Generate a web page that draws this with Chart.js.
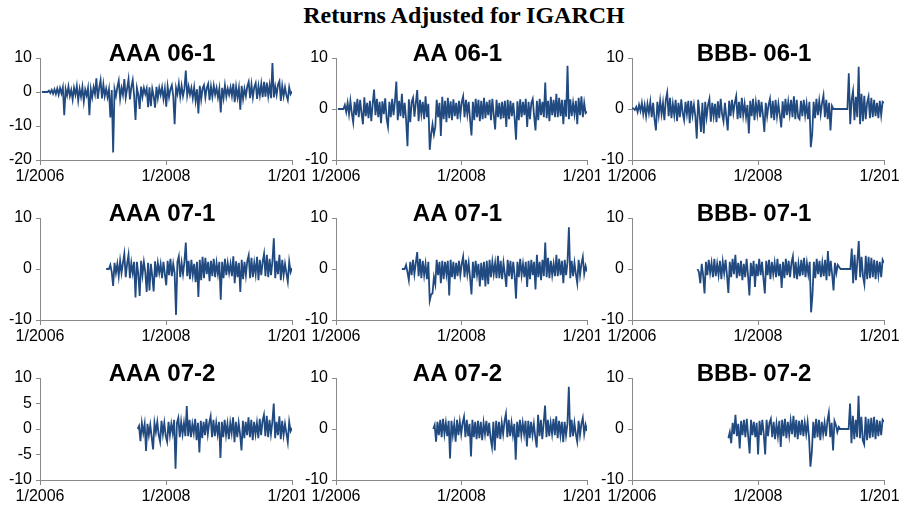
<!doctype html>
<html>
<head>
	<meta charset="utf-8">
	<title>Returns Adjusted for IGARCH</title>
	<script src="https://cdn.jsdelivr.net/npm/chart.js@4/dist/chart.umd.min.js"></script>
	<style>
		body {margin:0; background:#fff; overflow:hidden}
		#page {position:relative; width:910px; height:506px}
		#head {position:absolute; left:0; top:3px; width:928px; text-align:center;
			font:bold 24px "Liberation Serif", "Times New Roman", serif; line-height:24px; color:#000}
		canvas {position:absolute; background:#fff}
	</style>
	<script>
		// panel names, in reading order
		var names = ['AAA 06-1', 'AA 06-1', 'BBB- 06-1',
			'AAA 07-1', 'AA 07-1', 'BBB- 07-1',
			'AAA 07-2', 'AA 07-2', 'BBB- 07-2'];
		// first and last date of each series (decimal year)
		var startYear = [2006.03, 2006.03, 2006.0, 2007.05, 2007.05, 2007.04, 2007.55, 2007.55, 2007.53];
		var endYear = [2010.0, 2010.0, 2010.0, 2010.0, 2010.0, 2010.0, 2010.0, 2010.0, 2010.0];
		var xTicks = [2006, 2008, 2010];
		var yMin = [-20, -10, -10, -10, -10, -10, -10, -10, -10];
		var yMax = [10, 10, 10, 10, 10, 10, 10, 10, 10];
		var yStep = [10, 10, 10, 10, 10, 10, 5, 10, 10];

		var aaa061 = [0, 0, 0, 0, 0, 0.4, -0.3, 0.6, -0.5, 0.8,
			-0.6, 1.0, -0.8, 1.2, -0.4, 1.4, -6.8, 0.8, -1.0, 1.6,
			-1.2, 0.6, -2.2, 1.2, -0.8, 1.8, -2.5, 0.9, -1.4, 1.5,
			-2.8, 0.7, -1.0, 1.2, -6.8, 0.8, -1.6, 1.4, -0.6, 4.0,
			-2.0, 1.2, 3.5, -1.9, 2.2, -1.2, 1.0, -1.5, 0.8, -7.5,
			0.6, -17.8, 0.8, -1.2, 1.4, 3.3, -2.0, 1.2, -0.8, 3.8,
			-1.6, 1.0, 3.8, -2.2, 1.4, 3.5, -1.0, -8.2, 1.2, -0.8,
			-5.0, 1.6, -1.4, 1.2, -0.6, 1.0, -4.5, 1.4, -4.2, 0.9,
			-1.2, -4.6, 1.5, -1.8, 1.2, -0.8, 1.4, -2.0, 1.0, -4.3,
			1.6, -1.5, 0.8, 2.0, -1.2, -9.5, 1.2, -0.6, 2.5, -1.4,
			1.8, -1.2, 0.9, 6.3, -1.0, 1.6, -0.8, 1.2, -1.8, 1.4,
			-2.6, 0.8, -6.3, 1.8, -2.2, 1.0, 2.0, -1.6, 1.2, 2.4,
			-2.4, 1.6, -1.4, 1.9, -0.8, 1.2, -1.6, 1.0, -6.0, 1.2,
			-1.8, 2.0, -1.3, 1.0, -0.8, 1.4, -1.2, 2.5, -3.0, 1.5,
			-1.6, 1.2, -5.2, 1.8, -2.0, 1.0, -1.2, 1.6, 3.0, -1.8,
			2.2, -1.6, 1.4, 2.6, -2.0, 1.8, -1.0, 2.4, -1.5, 3.0,
			-1.4, 2.8, -1.2, 2.0, -1.8, 8.5, -1.6, 1.6, -0.8, 2.2,
			3.2, -2.6, 1.8, -1.2, 1.4, -1.0, -2.4, 1.4, -0.6, 0.2];
		var aa061 = [0, 0, 0, 0, 0, 0.8, -0.6, 1.2, -1.0, 1.6,
			-0.8, -2.6, 1.4, -1.2, 2.0, -1.6, 1.8, -0.8, -3.0, 2.3,
			-1.4, 1.2, -1.8, 1.6, -2.4, 1.0, 3.8, -1.2, 2.0, -1.6,
			1.4, -2.8, 1.5, -1.0, 2.1, -1.9, -3.5, 1.4, -1.6, 2.0,
			-1.2, 1.6, 5.4, -2.2, 1.6, -1.4, 3.0, -1.8, 1.2, -2.0,
			-7.3, 1.9, -2.6, 1.4, 2.2, -1.5, 1.2, 3.7, -2.4, 1.8,
			-1.0, 1.4, -2.0, 2.5, -1.6, 1.0, -8.0, -5.0, -3.0, -5.0,
			-3.5, 1.8, -1.6, 1.2, -5.3, 2.4, -2.0, 1.6, -2.6, 2.2,
			-1.8, 1.5, -2.2, 1.9, -1.4, 1.2, -2.0, 1.6, -1.2, 1.4,
			2.5, -1.6, 1.8, -1.0, 1.4, -2.2, -5.2, 1.4, -2.2, 2.0,
			-1.6, 1.8, -2.4, 1.6, -2.0, 2.2, -1.8, 1.4, -1.2, 1.8,
			-2.2, 2.0, -1.2, -4.0, 1.8, -1.6, 1.2, -2.0, 1.4, -1.8,
			1.6, -3.5, 1.8, -2.0, 1.6, -1.4, 1.2, -1.8, -6.0, 1.5,
			-2.2, 1.9, -1.6, 1.4, -1.2, 2.0, -3.5, 1.4, -2.0, 1.2,
			2.0, -1.4, -4.2, 1.6, -2.2, 2.0, -1.2, 1.4, -1.6, 5.2,
			-1.8, 1.6, -2.4, 2.4, -1.2, 1.8, -1.6, 3.0, -1.6, 2.2,
			-1.4, 1.8, -3.0, 1.8, -1.5, 8.5, -2.0, 1.9, -1.4, 1.2,
			-1.0, 1.6, -3.0, 2.2, -1.2, 2.5, -1.6, 1.2, -0.8, -0.5];
		var bbb061 = [0.2, 0.1, -0.2, 0.4, -0.6, 0.8, -0.4, 1.2, -1.0, 0.8,
			-1.4, 1.0, -0.8, 1.4, -1.6, 1.2, -2.0, -4.2, 1.4, -1.2,
			1.6, -1.0, 1.2, -2.2, 1.8, 3.2, -1.4, 2.2, -1.8, 1.0,
			-1.2, 1.8, -2.4, 1.2, -1.6, 1.9, -0.8, -2.2, 1.4, -1.0,
			1.6, -2.8, 1.6, -1.2, 0.8, -1.4, -5.8, 1.8, -1.0, -4.5,
			1.2, -4.8, 1.4, -1.6, 0.8, 2.0, -2.5, 1.2, -1.4, 1.0,
			-2.6, 1.5, -1.8, 2.0, -1.0, -2.4, 1.2, -1.6, -4.2, 1.6,
			-1.4, 1.8, -0.8, 1.2, 2.5, -2.0, 1.4, -1.8, 2.2, -1.2,
			1.0, -1.6, 0.8, -4.8, 1.6, -1.4, 2.0, -2.2, 1.2, -1.0,
			1.8, -1.6, 1.4, -1.2, -4.5, 1.2, -1.4, 0.8, 2.0, -1.8,
			1.6, -2.2, 1.8, -1.4, 1.0, -1.2, -3.6, 1.5, -1.8, 2.0,
			-1.2, 1.4, -1.0, 1.8, -1.6, 2.5, -2.0, 1.8, -1.6, -2.0,
			1.6, -1.4, 1.8, -1.2, 1.0, -2.0, 1.4, -7.5, -5.0, 1.4,
			-1.8, 2.0, -1.2, 1.6, -1.0, 1.2, 2.7, -1.6, 1.8, -2.0,
			1.2, -4.2, 0.6, 0, 0, 0, 0, 0, 0, 0,
			0, 0, 0, 0, 7.0, -3.0, 1.8, 3.5, -2.2, 2.4,
			-1.6, 8.3, -3.0, 3.0, -2.4, 2.6, -2.0, 1.2, 2.4, -1.8,
			2.2, -1.6, 1.8, -1.4, 1.2, -1.8, 1.6, -1.2, 1.4, 1.2];
		var aaa071 = [0, 0, 0, 0.8, -0.6, -3.3, 1.2, -0.8, 1.0, -1.4,
			1.6, -0.8, 1.2, 3.0, -1.6, 1.0, 2.8, -1.8, 1.2, -0.8,
			1.4, -5.6, 1.4, -1.0, -5.3, 1.6, -1.2, 1.4, -0.6, -4.5,
			1.2, -4.2, 1.0, -1.4, -4.4, 1.5, -1.6, 1.2, -0.8, 1.0,
			-1.8, 1.4, -1.0, -3.2, 1.6, -1.2, 2.0, -1.4, 1.0, -0.8,
			-9.0, 1.4, 2.5, -1.6, 1.2, -1.0, 1.4, 5.2, -1.4, 1.6,
			-2.0, 1.8, -1.2, 1.0, -2.6, 1.4, -5.5, 1.8, -2.2, 2.4,
			-1.8, 2.2, -1.0, 1.4, -2.4, 1.6, -1.4, 2.0, -1.6, 1.2,
			-1.0, 1.4, -6.0, 1.4, -1.8, 2.0, -1.2, 1.2, -0.8, 1.0,
			-1.4, 2.5, -2.8, 1.5, -1.6, 1.2, -4.5, 1.8, -2.0, 1.4,
			-1.2, 1.6, 2.7, -1.8, 2.2, -1.6, 1.2, -1.0, 2.4, -2.2,
			1.8, -1.2, 1.4, 3.0, -1.4, 2.8, -1.6, 2.0, -1.2, 1.6,
			6.0, -1.8, 1.6, -1.0, 2.8, -2.2, 1.8, -1.2, 1.0, -0.8,
			-2.5, 1.4, -0.6, 0.2];
		var aa071 = [0, 0, 0, 0.8, -0.6, -2.2, 1.4, -1.2, 1.8, -1.0,
			1.2, 3.3, -1.4, 2.0, -1.8, 1.6, -1.2, 1.0, -2.0, 1.4,
			-6.2, -5.0, -4.8, -1.6, -3.0, 1.8, -1.2, 1.4, -2.8, 1.6,
			-2.0, 1.4, -1.0, 1.6, -5.2, 1.8, -1.6, 1.4, -2.0, 1.2,
			-1.4, 1.6, -1.2, 1.0, 2.4, -1.6, 1.8, -1.0, 1.2, -1.8,
			-5.0, 1.4, -1.8, 1.6, -1.2, 1.0, -3.4, 1.2, -2.2, 1.4,
			-3.4, 1.6, -3.0, 1.8, -1.6, 1.4, -1.0, 1.2, -1.8, 2.6,
			-1.8, 1.6, -2.0, 1.2, -1.0, -3.5, 1.8, -1.4, 1.6, -2.0,
			1.4, -1.2, -5.8, 1.4, -1.6, 2.0, -1.2, 1.0, -1.6, 1.4,
			-3.5, 1.6, -2.0, 1.8, -1.2, 1.4, -4.0, 2.8, -1.6, 1.4,
			-2.2, 1.8, -1.4, 5.2, -1.6, 2.2, -1.8, 1.6, -1.2, 1.0,
			-1.4, 2.8, -1.4, 2.0, -1.2, 1.6, -2.8, 1.8, -1.2, 1.4,
			8.2, -1.8, 1.6, -1.4, 1.2, -1.0, -2.8, 1.8, -1.2, 1.0,
			2.4, -1.0, 0.6, -0.5];
		var bbb071 = [0, -0.6, -2.8, 1.0, -1.2, -4.8, 1.4, -1.2, 1.8, -0.8,
			1.2, -1.6, 2.0, -1.4, 1.0, -1.2, 1.6, -2.0, 1.4, -0.8,
			1.8, -1.2, -4.7, 1.4, -1.6, 2.0, -1.0, 2.8, -1.8, 1.2,
			-1.4, 1.6, -2.2, 1.0, -1.6, 2.0, -1.2, -5.2, 1.2, -1.4,
			1.6, -3.5, 1.0, -1.4, 2.0, -1.2, 1.4, -1.8, -4.8, 1.6,
			-1.2, 1.8, -2.0, 1.4, -1.0, 1.2, -1.6, 2.0, -1.4, 1.0,
			-3.7, 1.4, -1.8, 2.0, -1.2, 1.6, -1.6, 1.2, 2.5, -1.8,
			1.4, -2.0, 1.0, -1.4, 1.8, -1.2, 2.2, -1.6, 1.2, -1.0,
			1.4, -8.5, -5.0, 1.4, -1.8, 2.0, -1.0, 1.6, -1.6, 1.2,
			-1.4, 1.8, -2.2, 3.5, -1.4, 1.6, -1.0, -4.2, 1.2, -0.8,
			0.8, 0.4, 0, 0, 0, 0, 0, 0, 0, 0,
			4.0, -2.8, 2.8, -2.2, 1.6, 5.5, -1.6, 2.4, -1.4, -3.0,
			2.6, -2.0, 2.4, -1.8, 2.2, -1.6, 1.8, -2.0, 1.6, -1.2,
			1.4, -1.6, 1.8, 1.2];
		var aaa072 = [0, 0.6, -2.4, 1.2, -0.8, 1.0, -4.3, 1.0, -1.2, 0.8,
			-1.6, -4.0, 1.2, -0.6, 1.4, -1.2, -2.5, 1.6, -1.0, 1.2,
			-1.4, -2.5, 1.4, -1.2, 1.0, -0.8, 1.8, -7.8, 1.2, 2.2,
			-1.6, 1.4, -1.0, 1.2, -1.4, 4.5, -1.4, 1.8, -1.6, 1.0,
			-0.8, 2.0, -2.2, 1.2, -4.6, 1.6, -1.8, 1.4, -1.2, 2.0,
			-1.0, 1.2, 2.5, -1.6, 1.8, -1.4, 1.2, -1.0, 1.4, -5.7,
			1.4, -1.6, 1.8, -1.2, 1.0, -2.0, 1.2, -0.8, 2.3, -2.6,
			1.4, -1.6, 1.2, -1.0, -4.2, 1.6, -1.8, 1.4, -1.2, 2.3,
			-1.6, 1.8, -2.2, 1.4, -1.0, 1.2, -1.8, 2.0, -1.2, 1.6,
			2.8, -1.4, 2.6, -1.6, 1.8, -1.0, 1.4, 5.0, -1.8, 1.4,
			-1.2, 2.5, -2.0, 1.6, -1.2, 1.0, -0.8, -2.6, 1.4, -0.4,
			0.2];
		var aa072 = [0, 0.8, -2.5, 1.4, -1.2, 1.8, -1.6, 2.0, -1.0, 1.2,
			-1.4, 1.6, -5.8, 1.6, -1.2, 1.0, -2.5, 1.8, -1.2, 1.4,
			-1.0, 1.2, 2.4, -1.6, 1.8, -1.4, 1.0, -5.4, 1.8, -1.6,
			1.4, -2.0, 1.6, -1.8, 1.4, -2.2, 1.2, -1.0, 1.6, -1.4,
			1.2, -1.8, -3.5, 1.4, -4.2, 1.6, -1.8, 1.4, -2.0, 1.2,
			-1.0, 1.6, 3.0, -1.6, 1.8, -1.4, 1.2, -1.2, 1.0, -6.0,
			1.4, -1.6, 1.8, -1.2, 1.2, -1.0, 1.6, -3.4, 1.6, -1.8,
			1.4, -1.2, 1.0, -1.6, -3.6, 2.8, -1.4, 1.8, -2.0, 1.2,
			4.6, -1.6, 1.8, -1.4, 1.2, -1.0, 2.0, -1.2, 2.5, -1.8,
			1.6, -1.2, 1.4, -2.6, 1.4, -1.2, 1.0, 8.3, -1.6, 1.8,
			-1.4, 1.2, -1.0, -2.5, 1.6, -1.2, 1.0, 2.2, -1.0, 0.8,
			-0.4];
		var bbb072 = [-1.8, -0.6, -2.8, 1.2, -1.0, 2.8, -1.4, 1.0, -3.8, 1.6,
			-1.2, 1.8, -1.6, 2.0, -1.4, -4.8, 1.8, -1.2, 1.4, -1.6,
			1.2, -5.0, 1.6, -1.2, 1.8, -1.0, -5.0, 1.8, -1.4, 1.2,
			2.0, -1.6, 1.4, -2.0, 1.0, -1.4, 1.6, -3.5, 1.8, -1.4,
			2.0, -1.8, 1.4, -1.2, 1.6, -1.0, 2.6, -1.6, 1.8, -2.0,
			1.6, -1.2, 1.8, -1.4, 1.2, -1.0, 1.4, -1.6, -7.4, -4.5,
			1.4, -1.8, 2.0, -1.6, 1.8, -2.2, 1.4, -1.0, 1.2, -1.4,
			1.6, 3.2, -1.6, 1.2, -4.2, 1.6, 0.8, -0.6, 0.4, 0,
			0, 0, 0, 0, 0, 0, 5.0, -2.8, 2.6, -2.0,
			1.8, -1.6, 6.5, -1.8, 2.4, -2.2, -3.0, 2.4, -2.2, 2.0,
			-1.8, 2.2, -1.6, 2.4, -2.0, 1.8, -1.4, 1.6, -1.2, 1.8,
			1.4];
		var series = [aaa061, aa061, bbb061, aaa071, aa071, bbb071, aaa072, aa072, bbb072];

		var lineColor = '#214a80';
		var axisColor = '#8a8a8a';
		var tickFont = {family: '"Liberation Sans", Arial, sans-serif', size: 16};

		// panel title drawn over the top of the plot, like the original sheet
		var panelTitle = {
			id: 'panelTitle',
			afterDraw: function(chart, args, opts) {
				var c = chart.ctx, a = chart.chartArea;
				c.save();
				c.font = 'bold 24px "Liberation Sans", Arial, sans-serif';
				c.fillStyle = '#000';
				c.textAlign = 'center';
				c.textBaseline = 'middle';
				c.fillText(opts.text, (a.left + a.right) / 2 - 4, 22);
				c.restore();
			}
		};

		function drawPanel(k) {
			var col = k % 3, row = Math.floor(k / 3);
			var axisX = [40, 336, 632][col];
			var plotW = [252, 251, 252][col];
			var left = [0, 305, 600][col];   // later panels cover the clipped last date label
			var width = [320, 320, 299][col];
			var plotTop = [58, 218, 378][row];
			var yW = axisX - left;

			var cv = document.createElement('canvas');
			cv.width = width; cv.height = 160;
			cv.style.left = left + 'px';
			cv.style.top = (plotTop - 26) + 'px';
			document.getElementById('page').appendChild(cv);

			var vals = series[k], n = vals.length;
			var pts = vals.map(function(v, i) {
				return {x: startYear[k] + i * (endYear[k] - startYear[k]) / (n - 1), y: v};
			});

			new Chart(cv.getContext('2d'), {
				type: 'line',
				data: {datasets: [{data: pts, borderColor: lineColor, borderWidth: 1.8,
					pointRadius: 0, tension: 0, fill: false}]},
				options: {
					responsive: false,
					animation: false,
					layout: {padding: {top: 26, right: width - yW - plotW, left: 0, bottom: 0}},
					plugins: {legend: {display: false}, tooltip: {enabled: false},
						panelTitle: {text: names[k]}},
					scales: {
						x: {
							type: 'linear', min: 2006, max: 2010,
							afterBuildTicks: function(s) { s.ticks = xTicks.map(function(v) { return {value: v}; }); },
							afterFit: function(s) { s.height = 32; s.paddingLeft = 0; s.paddingRight = 0; },
							ticks: {callback: function(v) { return '1/' + v; }, color: '#000', font: tickFont,
								padding: 2, maxRotation: 0, autoSkip: false},
							grid: {drawOnChartArea: false, tickLength: 5, color: axisColor},
							border: {color: axisColor, width: 1}
						},
						y: {
							min: yMin[k], max: yMax[k],
							afterFit: function(s) { s.width = yW; },
							ticks: {stepSize: yStep[k], color: '#000', font: tickFont, padding: 4},
							grid: {drawOnChartArea: false, tickLength: 4, color: axisColor},
							border: {color: axisColor, width: 1}
						}
					}
				},
				plugins: [panelTitle]
			});
		}

		window.addEventListener('load', function() {
			for (var k = 0; k < 9; k++) drawPanel(k);
		});
	</script>
</head>
<body>
	<div id="page">
		<div id="head">Returns Adjusted for IGARCH</div>
	</div>
</body>
</html>
